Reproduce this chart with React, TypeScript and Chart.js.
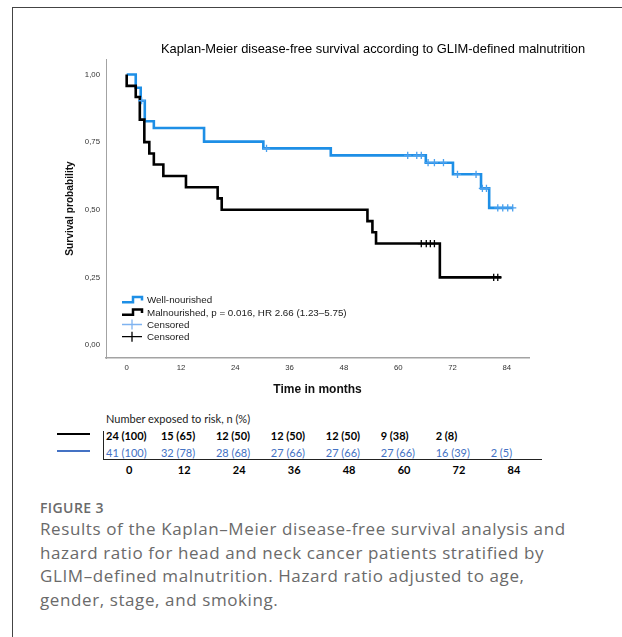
import React, { useEffect, useRef } from 'react';
import { Chart, registerables } from 'chart.js';
Chart.register(...registerables);

// ---- data ----
const xTicks = [0, 12, 24, 36, 48, 60, 72, 84];
const yTicks = [0, 0.25, 0.5, 0.75, 1];

const wellTimes = [0, 2, 3.1, 4, 6, 17.1, 30.2, 45.1, 66.1, 72.1, 78.3, 80.1, 85.4];
const wellSurv = [1, 0.951, 0.903, 0.827, 0.802, 0.752, 0.727, 0.701, 0.674, 0.631, 0.579, 0.507, 0.507];
const wellCensored = [3.3, 30.9, 62.1, 64.1, 65.1, 66.6, 68, 70, 73.1, 77.2, 78.6, 79.5, 82, 83.1, 84.2, 85.3];

const malTimes = [0, 0, 2, 2.9, 3.9, 5, 6, 8.1, 13.1, 20.1, 21, 53.2, 54.3, 55.1, 69.2, 82.8];
const malSurv = [1, 0.958, 0.917, 0.833, 0.75, 0.708, 0.667, 0.625, 0.583, 0.542, 0.5, 0.458, 0.417, 0.375, 0.25, 0.25];
const malCensored = [65.1, 66.2, 67.1, 68, 81.1, 82];

const riskTimes = [0, 12, 24, 36, 48, 60, 72, 84];
const malAtRisk = [24, 15, 12, 12, 12, 9, 2];
const malPct = [100, 65, 50, 50, 50, 38, 8];
const wellAtRisk = [41, 32, 28, 27, 27, 27, 16, 2];
const wellPct = [100, 78, 68, 66, 66, 66, 39, 5];

const legendLabels = [
  'Well-nourished',
  'Malnourished, p = 0.016, HR 2.66 (1.23\u20135.75)',
  'Censored',
  'Censored',
];

const captionLines = [
  'Results of the Kaplan\u2013Meier disease-free survival analysis and',
  'hazard ratio for head and neck cancer patients stratified by',
  'GLIM\u2013defined malnutrition. Hazard ratio adjusted to age,',
  'gender, stage, and smoking.',
];

const BLUE = '#1e8fe6';
const BLUE_CENSOR = '#4aa0ee';
const BLUE_LEGEND_CENSOR = '#7fb3f0';
const TABLE_BLUE = '#4472c4';

function survAt(times: number[], surv: number[], t: number) {
  let s = surv[0];
  for (let i = 0; i < times.length; i++) {
    if (times[i] <= t) s = surv[i];
  }
  return s;
}

const overlayPlugin = {
  id: 'kmOverlay',
  afterDraw(chart: any) {
    const { ctx, chartArea } = chart;
    ctx.save();
    // title
    ctx.fillStyle = '#000';
    ctx.font = '12.9px "Liberation Sans", Arial, sans-serif';
    ctx.textAlign = 'center';
    ctx.textBaseline = 'middle';
    ctx.fillText('Kaplan-Meier disease-free survival according to GLIM-defined malnutrition', 373, 49);

    // legend
    const x0 = chartArea.left + 16;
    const x1 = chartArea.left + 36;
    const rows = [chartArea.bottom - 58, chartArea.bottom - 45.5, chartArea.bottom - 33.5, chartArea.bottom - 21.3];
    ctx.lineCap = 'butt';
    ctx.lineJoin = 'miter';
    const drawStep = (y: number, color: string) => {
      ctx.strokeStyle = color;
      ctx.lineWidth = 2.5;
      ctx.beginPath();
      ctx.moveTo(x0, y + 2.2);
      ctx.lineTo(x0 + 11, y + 2.2);
      ctx.lineTo(x0 + 11, y - 3);
      ctx.lineTo(x1, y - 3);
      ctx.lineTo(x1, y + 0.5);
      ctx.stroke();
    };
    const drawCross = (y: number, color: string) => {
      ctx.strokeStyle = color;
      ctx.lineWidth = 1.3;
      ctx.beginPath();
      ctx.moveTo(x0, y);
      ctx.lineTo(x1, y);
      ctx.moveTo((x0 + x1) / 2, y - 5);
      ctx.lineTo((x0 + x1) / 2, y + 5);
      ctx.stroke();
    };
    drawStep(rows[0], BLUE);
    drawStep(rows[1], '#000');
    drawCross(rows[2], BLUE_LEGEND_CENSOR);
    drawCross(rows[3], '#000');
    ctx.fillStyle = '#1a1a1a';
    ctx.font = '9.8px "Liberation Sans", Arial, sans-serif';
    ctx.textAlign = 'left';
    legendLabels.forEach((l, i) => ctx.fillText(l, x1 + 5, rows[i] + 0.5));
    ctx.restore();
  },
};

function ChartCanvas() {
  const ref = useRef<HTMLCanvasElement | null>(null);
  useEffect(() => {
    if (!ref.current) return;
    const wellLine = wellTimes.map((t, i) => ({ x: t, y: wellSurv[i] }));
    const malLine = malTimes.map((t, i) => ({ x: t, y: malSurv[i] }));
    const wellCens = wellCensored.map((t) => ({ x: t, y: survAt(wellTimes, wellSurv, t) }));
    const malCens = malCensored.map((t) => ({ x: t, y: survAt(malTimes, malSurv, t) }));
    const chart = new Chart(ref.current, {
      type: 'line',
      data: {
        datasets: [
          {
            type: 'scatter',
            data: malCens,
            showLine: false,
            pointStyle: 'cross',
            pointRadius: 3.6,
            pointBorderWidth: 1.3,
            pointBorderColor: '#000',
            pointBackgroundColor: '#000',
          } as any,
          {
            type: 'scatter',
            data: wellCens,
            showLine: false,
            pointStyle: 'cross',
            pointRadius: 3.6,
            pointBorderWidth: 1.3,
            pointBorderColor: BLUE_CENSOR,
            pointBackgroundColor: BLUE_CENSOR,
          } as any,
          {
            data: malLine,
            stepped: 'before',
            borderColor: '#000',
            borderWidth: 2.6,
            pointRadius: 0,
            fill: false,
            borderJoinStyle: 'miter',
          },
          {
            data: wellLine,
            stepped: 'before',
            borderColor: BLUE,
            borderWidth: 2.6,
            pointRadius: 0,
            fill: false,
            borderJoinStyle: 'miter',
          },
        ],
      },
      options: {
        animation: false,
        responsive: false,
        maintainAspectRatio: false,
        events: [],
        layout: { padding: { left: 64, top: 59, right: 93, bottom: 3 } },
        plugins: { legend: { display: false }, tooltip: { enabled: false }, title: { display: false } },
        scales: {
          x: {
            type: 'linear',
            min: -4.57,
            max: 88.9,
            afterBuildTicks: (s: any) => {
              s.ticks = xTicks.map((v) => ({ value: v }));
            },
            afterFit: (s: any) => {
              s.height = 39;
            },
            grid: { display: false, drawTicks: false },
            border: { display: true, color: '#a3a3a3', width: 1.5 },
            ticks: {
              padding: 5,
              color: '#333',
              font: { family: '"Liberation Sans", Arial, sans-serif', size: 7.8 },
              maxRotation: 0,
              autoSkip: false,
            },
            title: {
              display: true,
              text: 'Time in months',
              color: '#111',
              padding: 0,
              font: { family: '"Liberation Sans", Arial, sans-serif', size: 12, weight: 'bold' },
            },
          },
          y: {
            type: 'linear',
            min: -0.0481,
            max: 1.0573,
            afterBuildTicks: (s: any) => {
              s.ticks = yTicks.map((v) => ({ value: v }));
            },
            afterFit: (s: any) => {
              s.width = 42;
            },
            grid: { display: false, drawTicks: false },
            border: { display: true, color: '#a3a3a3', width: 1 },
            ticks: {
              padding: 6,
              color: '#333',
              font: { family: '"Liberation Sans", Arial, sans-serif', size: 7.8 },
              callback: (v: any) => Number(v).toFixed(2).replace('.', ','),
            },
            title: {
              display: true,
              text: 'Survival probability',
              color: '#111',
              padding: 0,
              font: { family: '"Liberation Sans", Arial, sans-serif', size: 10.2, weight: 'bold' },
            },
          },
        },
      },
      plugins: [overlayPlugin],
    } as any);
    return () => chart.destroy();
  }, []);
  return (
    <canvas
      ref={ref}
      width={622}
      height={400}
      style={{ position: 'absolute', left: 0, top: 0, width: 622, height: 400 }}
    />
  );
}

const TABLE_LEFT = 106;
const TABLE_STEP = 54.95;

export default function App() {
  const lato = 'Lato, "Open Sans", sans-serif';
  const cell = (top: number, left: number, text: string, color: string, bold: boolean, center = false) => (
    <div
      key={`${top}-${left}-${text}`}
      style={{
        position: 'absolute',
        top: top - 7,
        left: center ? left - 30 : left,
        width: center ? 60 : undefined,
        textAlign: center ? 'center' : 'left',
        whiteSpace: 'nowrap',
        font: `${bold ? 'bold ' : ''}11px ${lato}`,
        lineHeight: '14px',
        color,
      }}
    >
      {text}
    </div>
  );
  return (
    <div
      style={{
        position: 'absolute',
        left: 0,
        top: 0,
        width: 622,
        height: 637,
        background: '#fff',
        overflow: 'hidden',
      }}
    >
      <div
        style={{
          position: 'absolute',
          left: 12,
          top: 7,
          width: 640,
          height: 660,
          borderTop: '1px solid #444',
          borderLeft: '1px solid #444',
        }}
      />
      <ChartCanvas />
      {/* risk table */}
      {cell(419, 106, 'Number exposed to risk, n (%)', '#222', false)}
      <div style={{ position: 'absolute', left: 57, top: 432.8, width: 33, height: 2.6, background: '#000' }} />
      <div style={{ position: 'absolute', left: 57, top: 449.5, width: 33, height: 2.6, background: TABLE_BLUE }} />
      <div style={{ position: 'absolute', left: 103, top: 431, width: 1, height: 29, background: '#222' }} />
      <div style={{ position: 'absolute', left: 103, top: 459, width: 439, height: 1, background: '#222' }} />
      {malAtRisk.map((n, i) => cell(436, TABLE_LEFT + i * TABLE_STEP, `${n} (${malPct[i]})`, '#000', true))}
      {wellAtRisk.map((n, i) => cell(452.5, TABLE_LEFT + i * TABLE_STEP, `${n} (${wellPct[i]})`, TABLE_BLUE, false))}
      {riskTimes.map((t, i) => cell(469.5, TABLE_LEFT + 23.3 + i * TABLE_STEP, String(t), '#000', true, true))}
      {/* caption */}
      <div
        style={{
          position: 'absolute',
          left: 40,
          top: 499,
          font: '600 14px "Open Sans", sans-serif',
          lineHeight: '18px',
          color: '#6a6a6a',
          letterSpacing: '0.4px',
        }}
      >
        FIGURE 3
      </div>
      <div
        style={{
          position: 'absolute',
          left: 40,
          top: 517,
          font: '17px "Open Sans", sans-serif',
          lineHeight: '23.6px',
          color: '#6a6a6a',
          whiteSpace: 'nowrap',
          letterSpacing: '0.6px',
        }}
      >
        {captionLines.map((l) => (
          <div key={l}>{l}</div>
        ))}
      </div>
    </div>
  );
}
